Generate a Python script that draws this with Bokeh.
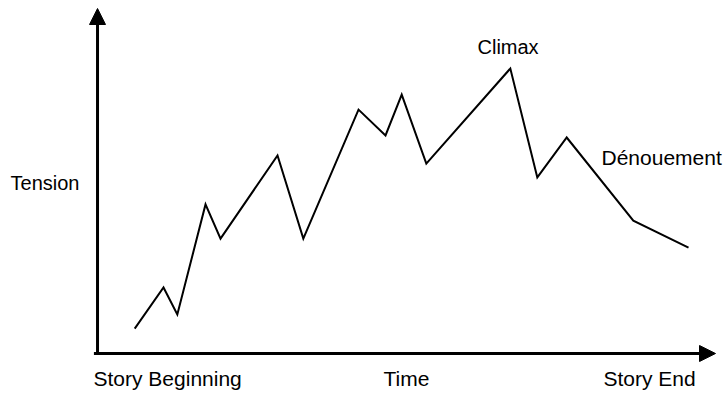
from bokeh.plotting import figure
from bokeh.models import Range1d, Label, Arrow, NormalHead
from bokeh.embed import file_html
from bokeh.resources import INLINE

# Story timeline (0 = beginning, ~100 = end) and tension level
time = [6.2, 11.0, 13.3, 18.0, 20.5, 30.0, 34.3, 43.5, 48.0, 50.7, 54.8, 68.8, 73.3, 78.2, 89.3, 98.5]
tension = [8.3, 22.0, 13.0, 49.7, 38.3, 66.0, 38.3, 81.3, 72.7, 86.3, 63.3, 95.0, 58.7, 72.0, 44.3, 35.3]

x_label_left = "Story Beginning"
x_label_mid = "Time"
x_label_right = "Story End"
y_label = "Tension"
peak_label = "Climax"
end_label = "Dénouement"

FONT = "Liberation Sans"

p = figure(width=726, height=393, output_backend="svg", toolbar_location=None,
           x_range=Range1d(-16.17, 104.83), y_range=Range1d(-13.33, 117.67),
           min_border=0, outline_line_color=None)
p.axis.visible = False
p.grid.visible = False
p.background_fill_color = "white"
p.border_fill_color = "white"

# axes with arrow heads
p.add_layout(Arrow(end=NormalHead(size=16, fill_color="black", line_color="black", line_width=1),
                   x_start=-0.6, y_start=0, x_end=103, y_end=0, line_width=3, line_color="black"))
p.add_layout(Arrow(end=NormalHead(size=16, fill_color="black", line_color="black", line_width=1),
                   x_start=0, y_start=-0.5, x_end=0, y_end=115, line_width=3, line_color="black"))

p.line(time, tension, line_color="black", line_width=2, line_join="miter")

def lab(x, y, t, size="20px"):
    p.add_layout(Label(x=x, y=y, text=t, text_font=FONT, text_font_size=size,
                       text_color="black", text_baseline="alphabetic", text_align="left"))

lab(-0.67, -8.4, x_label_left, "21px")
lab(47.67, -8.4, x_label_mid, "21px")
lab(84.33, -8.4, x_label_right, "21px")
lab(-14.5, 57.0, y_label)
lab(63.33, 102.3, peak_label)
lab(84.0, 65.5, end_label, "21px")

open("out.html", "w").write(file_html(p, INLINE))
